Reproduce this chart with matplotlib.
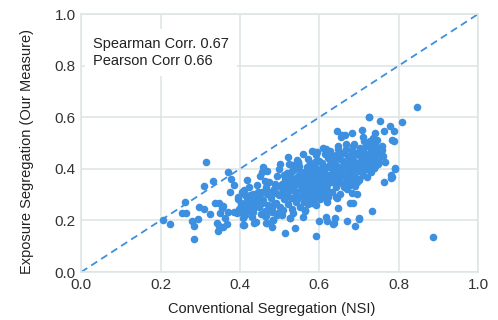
import matplotlib
matplotlib.use("Agg")
from matplotlib import pyplot as plt

plt.rcParams["font.family"] = ["Liberation Sans", "DejaVu Sans"]

# sparse points, lower left
nsi_left = [0.205, 0.224, 0.285, 0.280, 0.285, 0.294, 0.254, 0.263, 0.262, 0.298,
            0.310, 0.325, 0.315, 0.310, 0.333, 0.338, 0.346, 0.343, 0.345, 0.346,
            0.370, 0.378, 0.367, 0.374, 0.386, 0.357, 0.407, 0.392, 0.354, 0.363,
            0.371, 0.358, 0.350]
exp_left = [0.202, 0.186, 0.127, 0.198, 0.180, 0.204, 0.227, 0.229, 0.273, 0.253,
            0.243, 0.224, 0.425, 0.335, 0.353, 0.266, 0.268, 0.191, 0.160, 0.178,
            0.389, 0.360, 0.186, 0.309, 0.337, 0.256, 0.182, 0.227, 0.247, 0.208,
            0.234, 0.176, 0.227]

# sparse points, lower right / bottom edge
nsi_low = [0.886, 0.791, 0.783, 0.763, 0.781, 0.732, 0.699, 0.690, 0.669, 0.636,
           0.640, 0.620, 0.617, 0.598, 0.591, 0.648, 0.678, 0.684, 0.682, 0.694,
           0.619, 0.564, 0.560, 0.539, 0.514, 0.533, 0.525, 0.480, 0.468, 0.483,
           0.441, 0.436, 0.463, 0.505, 0.509, 0.476, 0.642, 0.565, 0.634, 0.701,
           0.644, 0.609, 0.623, 0.661, 0.701, 0.678, 0.409, 0.465, 0.484, 0.494,
           0.526, 0.407, 0.384, 0.434]
exp_low = [0.134, 0.402, 0.369, 0.350, 0.366, 0.238, 0.204, 0.180, 0.198, 0.189,
           0.208, 0.198, 0.214, 0.198, 0.140, 0.247, 0.266, 0.267, 0.305, 0.301,
           0.272, 0.240, 0.212, 0.169, 0.150, 0.227, 0.208, 0.176, 0.191, 0.202,
           0.195, 0.189, 0.217, 0.221, 0.240, 0.247, 0.292, 0.238, 0.185, 0.208,
           0.288, 0.292, 0.314, 0.331, 0.360, 0.337, 0.182, 0.189, 0.202, 0.221,
           0.211, 0.208, 0.234, 0.234]

# sparse points, upper edge
nsi_top = [0.846, 0.726, 0.754, 0.808, 0.777, 0.789, 0.762, 0.644, 0.741, 0.707,
           0.665, 0.655, 0.783, 0.788, 0.757, 0.610, 0.520, 0.594, 0.657, 0.682,
           0.724, 0.711, 0.745, 0.735, 0.732, 0.738, 0.736, 0.738, 0.791, 0.780,
           0.501, 0.459, 0.455, 0.531, 0.547, 0.589]
exp_top = [0.638, 0.600, 0.585, 0.583, 0.566, 0.548, 0.548, 0.547, 0.540, 0.550,
           0.531, 0.525, 0.512, 0.509, 0.488, 0.482, 0.447, 0.466, 0.531, 0.538,
           0.602, 0.522, 0.512, 0.518, 0.466, 0.462, 0.431, 0.402, 0.399, 0.376,
           0.419, 0.408, 0.389, 0.415, 0.428, 0.466]

# dense core
nsi_core = [
    0.398, 0.402, 0.396, 0.404, 0.412, 0.408, 0.414, 0.421, 0.418, 0.423, 0.419, 0.431, 0.428, 0.433,
    0.441, 0.438, 0.444, 0.452, 0.448, 0.455, 0.451, 0.462, 0.458, 0.465, 0.471, 0.468, 0.474, 0.469,
    0.482, 0.478, 0.485, 0.492, 0.488, 0.494, 0.501, 0.498, 0.504, 0.499, 0.512, 0.508, 0.514,
    0.521, 0.518, 0.524, 0.519, 0.523, 0.532, 0.528, 0.534, 0.529, 0.541, 0.538, 0.544, 0.539, 0.543,
    0.551, 0.548, 0.554, 0.549, 0.553, 0.547, 0.562, 0.558, 0.561, 0.557, 0.563, 0.559,
    0.566, 0.568, 0.564, 0.567, 0.569, 0.571, 0.573, 0.569, 0.572, 0.574, 0.570, 0.572,
    0.576, 0.578, 0.575, 0.577, 0.579, 0.576,
    0.581, 0.583, 0.579, 0.582, 0.584, 0.580, 0.582, 0.586, 0.588, 0.585, 0.587, 0.589,
    0.592, 0.590, 0.594, 0.591, 0.593, 0.589, 0.592,
    0.601, 0.603, 0.599, 0.602, 0.604, 0.600, 0.611, 0.613, 0.609, 0.612, 0.608, 0.614,
    0.621, 0.619, 0.623, 0.620, 0.622, 0.618,
    0.631, 0.629, 0.633, 0.630, 0.632, 0.628, 0.641, 0.639, 0.643, 0.640, 0.642,
    0.651, 0.649, 0.653, 0.650, 0.652, 0.648,
    0.661, 0.659, 0.663, 0.660, 0.662, 0.671, 0.669, 0.673, 0.670, 0.672, 0.668,
    0.681, 0.679, 0.683, 0.680, 0.682,
    0.691, 0.689, 0.693, 0.690, 0.692, 0.688, 0.701, 0.699, 0.703, 0.700, 0.702,
    0.711, 0.709, 0.713, 0.710, 0.712,
    0.721, 0.719, 0.723, 0.720, 0.722, 0.731, 0.729, 0.733, 0.730, 0.741, 0.739, 0.743, 0.740,
    0.751, 0.749, 0.761]
exp_core = [
    0.243, 0.268, 0.292, 0.312, 0.222, 0.261, 0.298, 0.252, 0.281, 0.328, 0.356, 0.232, 0.272, 0.303,
    0.262, 0.291, 0.338, 0.224, 0.252, 0.309, 0.372, 0.238, 0.279, 0.331, 0.258, 0.302, 0.348, 0.391,
    0.231, 0.287, 0.322, 0.268, 0.342, 0.371, 0.253, 0.298, 0.331, 0.398, 0.282, 0.318, 0.362,
    0.262, 0.301, 0.348, 0.382, 0.418, 0.243, 0.288, 0.329, 0.368, 0.271, 0.309, 0.341, 0.398, 0.436,
    0.252, 0.291, 0.318, 0.358, 0.388, 0.428, 0.272, 0.302, 0.328, 0.351, 0.381, 0.458,
    0.288, 0.312, 0.338, 0.372, 0.408, 0.262, 0.298, 0.322, 0.341, 0.361, 0.392, 0.438,
    0.281, 0.308, 0.331, 0.352, 0.378, 0.421,
    0.268, 0.292, 0.318, 0.339, 0.362, 0.398, 0.468, 0.302, 0.328, 0.348, 0.371, 0.428,
    0.258, 0.288, 0.312, 0.341, 0.381, 0.409, 0.452,
    0.282, 0.318, 0.352, 0.372, 0.401, 0.432, 0.302, 0.331, 0.362, 0.388, 0.421, 0.458,
    0.291, 0.338, 0.378, 0.409, 0.441, 0.478,
    0.312, 0.348, 0.371, 0.402, 0.428, 0.468, 0.328, 0.361, 0.391, 0.418, 0.452,
    0.302, 0.352, 0.382, 0.409, 0.438, 0.488,
    0.338, 0.372, 0.398, 0.431, 0.462, 0.322, 0.358, 0.391, 0.418, 0.448, 0.478,
    0.348, 0.381, 0.412, 0.438, 0.471,
    0.332, 0.368, 0.398, 0.428, 0.461, 0.498, 0.358, 0.391, 0.418, 0.452, 0.481,
    0.378, 0.412, 0.441, 0.468, 0.508,
    0.368, 0.401, 0.428, 0.458, 0.491, 0.388, 0.418, 0.451, 0.478, 0.412, 0.438, 0.468, 0.498,
    0.428, 0.458, 0.448]

# extra points filling the densest part of the cloud
nsi_fill = [
    0.395, 0.405, 0.415, 0.425, 0.435, 0.445, 0.455, 0.465, 0.475, 0.485, 0.495,
    0.410, 0.430, 0.450, 0.470, 0.490, 0.402, 0.422, 0.442, 0.462, 0.482,
    0.505, 0.515, 0.525, 0.535, 0.545, 0.555, 0.565, 0.575, 0.585, 0.595,
    0.510, 0.520, 0.530, 0.540, 0.550, 0.560, 0.570, 0.580, 0.590, 0.600,
    0.527, 0.547, 0.567, 0.587, 0.557, 0.577, 0.597, 0.537, 0.582, 0.572,
    0.605, 0.615, 0.625, 0.635, 0.645, 0.655, 0.665, 0.675, 0.685, 0.695,
    0.608, 0.618, 0.628, 0.638, 0.648, 0.658, 0.668, 0.678, 0.688, 0.698,
    0.626, 0.646, 0.666, 0.686,
    0.705, 0.715, 0.725, 0.735, 0.745, 0.755, 0.765, 0.718, 0.738, 0.758, 0.728, 0.748]
exp_fill = [
    0.282, 0.232, 0.245, 0.298, 0.251, 0.312, 0.266, 0.219, 0.312, 0.262, 0.228,
    0.318, 0.214, 0.288, 0.242, 0.305, 0.258, 0.236, 0.275, 0.352, 0.248,
    0.342, 0.298, 0.318, 0.352, 0.282, 0.338, 0.352, 0.298, 0.318, 0.362,
    0.378, 0.335, 0.392, 0.288, 0.412, 0.318, 0.312, 0.348, 0.322, 0.302,
    0.362, 0.372, 0.392, 0.392, 0.372, 0.362, 0.332, 0.318, 0.382, 0.282,
    0.342, 0.378, 0.352, 0.382, 0.342, 0.462, 0.412, 0.368, 0.392, 0.348,
    0.392, 0.318, 0.418, 0.442, 0.372, 0.398, 0.498, 0.432, 0.452, 0.412,
    0.458, 0.478, 0.348, 0.488,
    0.432, 0.398, 0.448, 0.432, 0.482, 0.448, 0.428, 0.488, 0.402, 0.472, 0.508, 0.418]

spearman = 0.67
pearson = 0.66
ticks = [0.0, 0.2, 0.4, 0.6, 0.8, 1.0]

blue = "#3d8fe0"
grid_col = "#dfe5e5"

nsi = nsi_left + nsi_low + nsi_top + nsi_core + nsi_fill
exposure = exp_left + exp_low + exp_top + exp_core + exp_fill

fig = plt.figure(figsize=(4.98, 3.20), dpi=100)
ax = fig.add_axes([0.163, 0.15, 0.797, 0.806])

ax.scatter(nsi, exposure, s=30, color=blue, linewidths=0, zorder=3)
ax.plot([0, 1], [0, 1], color=blue, lw=1.3, ls=(0, (4, 2.6)), zorder=2)

ax.set_xlim(0, 1)
ax.set_ylim(0, 1)
ax.set_xticks(ticks)
ax.set_yticks(ticks)
ax.set_xticklabels([f"{t:.1f}" for t in ticks])
ax.set_yticklabels([f"{t:.1f}" for t in ticks])
ax.tick_params(length=0, labelsize=11, colors="#333333", pad=4)
ax.grid(True, color=grid_col, lw=1.2, zorder=0)
for sp in ax.spines.values():
    sp.set_color(grid_col)
    sp.set_linewidth(1.2)

ax.set_xlabel("Conventional Segregation (NSI)", fontsize=10.5, color="#222222")
ax.set_ylabel("Exposure Segregation (Our Measure)", fontsize=10.5, color="#222222")
ax.xaxis.set_label_coords(0.481, -0.116)
ax.yaxis.set_label_coords(-0.12, 0.469)

ax.text(0.03, 0.85, f"Spearman Corr. {spearman}\nPearson Corr {pearson}",
        fontsize=10.5, color="#222222", va="center", ha="left", linespacing=1.25,
        bbox=dict(facecolor="white", edgecolor="none", pad=6), zorder=4)

fig.savefig("out.png", dpi=100)
